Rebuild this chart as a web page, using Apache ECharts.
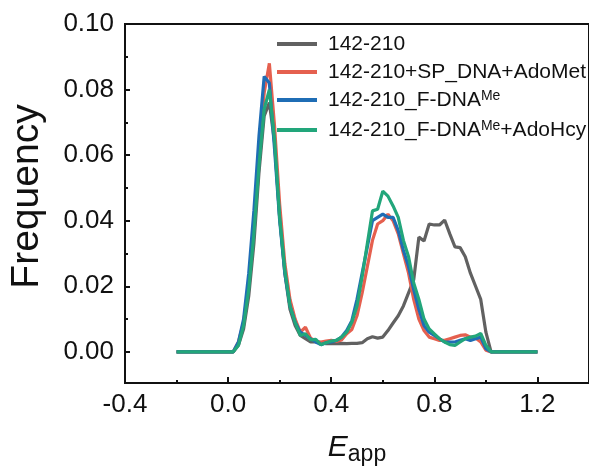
<!DOCTYPE html>
<html>
<head>
<meta charset="utf-8">
<script src="https://cdn.jsdelivr.net/npm/echarts@6/dist/echarts.min.js"></script>
<style>html,body{margin:0;padding:0;background:#fff}#c{width:589px;height:474px}</style>
</head>
<body>
<div id="c"></div>
<script>
// Bin centres of E_app
var binCenters = [-0.20,-0.18,-0.16,-0.14,-0.12,-0.10,-0.08,-0.06,-0.04,-0.02,
  0.00,0.02,0.04,0.06,0.08,0.10,0.12,0.14,0.16,0.18,
  0.20,0.22,0.24,0.26,0.28,0.30,0.32,0.34,0.36,0.38,
  0.40,0.42,0.44,0.46,0.48,0.50,0.52,0.54,0.56,0.58,
  0.60,0.62,0.64,0.66,0.68,0.70,0.72,0.74,0.76,0.78,
  0.80,0.82,0.84,0.86,0.88,0.90,0.92,0.94,0.96,0.98,
  1.00,1.02,1.04,1.06,1.08,1.10,1.12,1.14,1.16,1.18,1.20];

var seriesNames = ['142-210','142-210+SP_DNA+AdoMet','142-210_F-DNA^Me','142-210_F-DNA^Me+AdoHcy'];

var gray = [0,0,0,0,0,0,0,0,0,0,
  0,0,0.002,0.007,0.017,0.033,0.055,0.072,0.076,0.064,
  0.041,0.024,0.013,0.008,0.005,0.004,0.003,0.003,0.0028,0.0025,
  0.0025,0.0025,0.0026,0.0025,0.0026,0.0026,0.0028,0.004,0.0046,0.0042,
  0.0045,0.0065,0.0088,0.011,0.014,0.018,0.022,0.035,0.0338,0.039,
  0.0387,0.0387,0.0402,0.036,0.032,0.0318,0.029,0.024,0.020,0.016,
  0.006,0,0,0,0,0,0,0,0,0,0];

var red = [0,0,0,0,0,0,0,0,0,0,
  0,0,0.003,0.009,0.021,0.038,0.060,0.079,0.088,0.069,
  0.045,0.027,0.016,0.010,0.006,0.0075,0.0042,0.0032,0.003,0.0033,
  0.0035,0.0032,0.0036,0.0055,0.0068,0.011,0.018,0.026,0.034,0.039,
  0.040,0.042,0.040,0.036,0.030,0.024,0.016,0.010,0.0065,0.0045,
  0.004,0.0035,0.0035,0.004,0.0045,0.005,0.0052,0.0045,0.0042,0.003,
  0.0005,0,0,0,0,0,0,0,0,0,0];

var blue = [0,0,0,0,0,0,0,0,0,0,
  0,0,0.003,0.010,0.024,0.043,0.066,0.084,0.082,0.062,
  0.040,0.024,0.014,0.009,0.006,0.005,0.004,0.003,0.0022,0.0028,
  0.003,0.0035,0.0045,0.0065,0.0095,0.016,0.024,0.032,0.040,0.041,
  0.042,0.041,0.041,0.037,0.031,0.026,0.019,0.013,0.008,0.006,
  0.005,0.004,0.003,0.003,0.003,0.0035,0.004,0.0035,0.004,0.0045,
  0.001,0,0,0,0,0,0,0,0,0,0];

var green = [0,0,0,0,0,0,0,0,0,0,
  0,0,0.002,0.008,0.019,0.036,0.057,0.074,0.080,0.065,
  0.041,0.025,0.014,0.009,0.005,0.0055,0.0037,0.0038,0.0022,0.0028,
  0.0033,0.0035,0.0045,0.006,0.009,0.014,0.023,0.033,0.043,0.0435,
  0.049,0.0475,0.0445,0.041,0.034,0.029,0.021,0.016,0.010,0.007,
  0.0055,0.004,0.003,0.0022,0.002,0.003,0.004,0.0045,0.0048,0.0056,
  0.002,0,0,0,0,0,0,0,0,0,0];

var yTickValues = [0, 0.02, 0.04, 0.06, 0.08, 0.10];
var yMinorValues = [0.01, 0.03, 0.05, 0.07, 0.09];
var colors = ['#616161', '#E5604F', '#1F6DB5', '#22A67B'];

function pairs(arr) { return binCenters.map(function (x, i) { return [x, arr[i]]; }); }
var allData = [gray, red, blue, green];

var FONT = '"Liberation Sans", Arial, sans-serif';
var chart = echarts.init(document.getElementById('c'));
chart.setOption({
  animation: false,
  color: colors,
  grid: { left: 122, top: 24, width: 470, height: 359, show: true, borderWidth: 2, borderColor: '#111', backgroundColor: 'transparent' },
  legend: {
    orient: 'vertical', left: 277, top: 33, padding: 0,
    icon: 'rect', itemWidth: 40, itemHeight: 4, itemGap: 6,
    data: seriesNames,
    formatter: function (n) { return n.replace('^Me', '{sup|Me}'); },
    textStyle: {
      fontFamily: FONT, fontSize: 21, color: '#111', lineHeight: 22, padding: [0, 0, 0, 6],
      rich: { sup: { fontFamily: FONT, fontSize: 14, verticalAlign: 'top', lineHeight: 22, padding: [0, 0, 10, 0], color: '#111' } }
    }
  },
  xAxis: {
    type: 'value', min: -0.4, max: 1.4, interval: 0.4,
    name: '{e|E}{s|app}', nameLocation: 'middle', nameGap: 47,
    nameTextStyle: {
      rich: {
        e: { fontFamily: FONT, fontStyle: 'italic', fontSize: 30, color: '#111', lineHeight: 36 },
        s: { fontFamily: FONT, fontSize: 23, color: '#111', verticalAlign: 'bottom', lineHeight: 24 }
      }
    },
    axisLine: { onZero: false, lineStyle: { color: '#111', width: 2 } },
    axisTick: { inside: true, length: 6, lineStyle: { color: '#111', width: 2 } },
    minorTick: { show: true, splitNumber: 2, length: 3, lineStyle: { color: '#111', width: 2 } },
    axisLabel: { fontFamily: FONT, fontSize: 26, color: '#111', margin: 9, showMaxLabel: false,
      formatter: function (v) { return v.toFixed(1); } },
    splitLine: { show: false }, minorSplitLine: { show: false }
  },
  yAxis: [{
    type: 'value', min: -0.0095, max: 0.10,
    name: 'Frequency', nameLocation: 'middle', nameGap: 78,
    nameTextStyle: { fontFamily: FONT, fontSize: 39, color: '#111', padding: [0, 0, 0, 14] },
    axisLine: { onZero: false, lineStyle: { color: '#111', width: 2 } },
    axisTick: { inside: true, length: 5, customValues: yTickValues, lineStyle: { color: '#111', width: 2 } },
    axisLabel: { fontFamily: FONT, fontSize: 26, color: '#111', margin: 11, customValues: yTickValues,
      formatter: function (v) { return v.toFixed(2); } },
    splitLine: { show: false }
  }, {
    type: 'value', min: -0.0095, max: 0.10, position: 'left',
    axisLine: { show: false, onZero: false },
    axisTick: { show: true, inside: true, length: 3, customValues: yMinorValues, lineStyle: { color: '#111', width: 2 } },
    axisLabel: { show: false }, splitLine: { show: false }
  }],
  series: seriesNames.map(function (n, i) {
    return { name: n, type: 'line', symbol: 'none', yAxisIndex: 0, data: pairs(allData[i]),
      lineStyle: { width: 3.2, color: colors[i] }, itemStyle: { color: colors[i] }, z: 2 + i };
  })
});
</script>
</body>
</html>
